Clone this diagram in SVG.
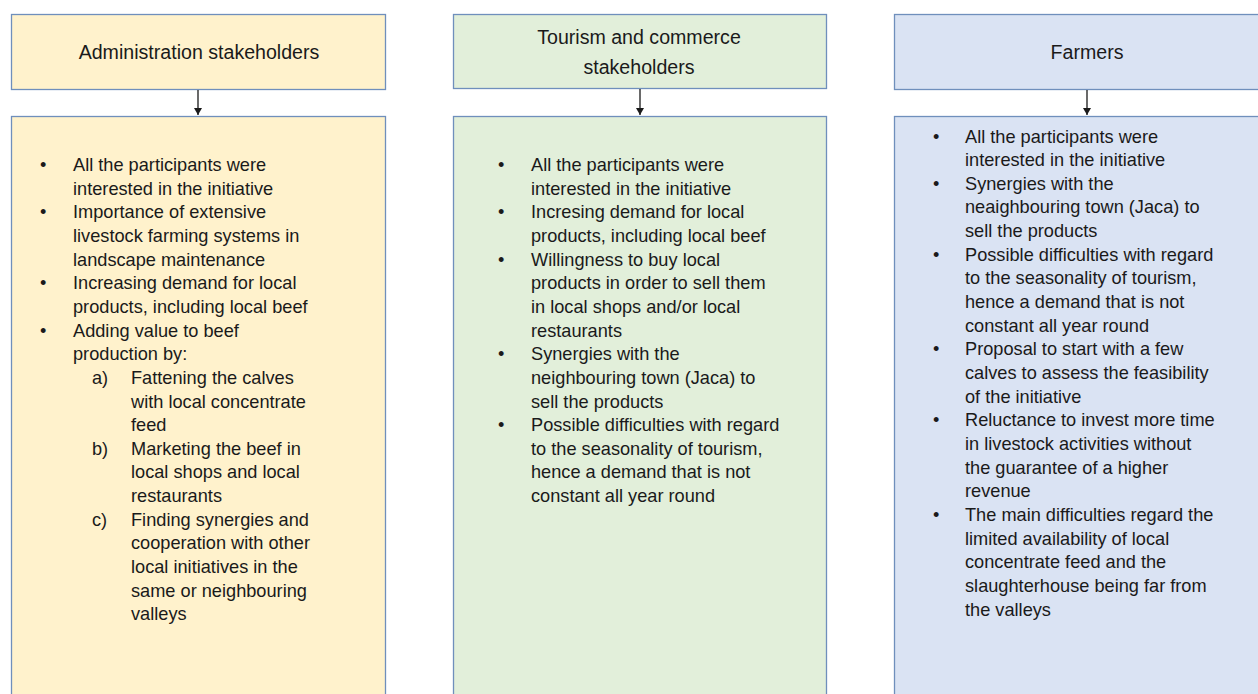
<svg xmlns="http://www.w3.org/2000/svg" width="1258" height="694" viewBox="0 0 1258 694">
<defs>
<style>
.box{stroke:#6F8FBC;stroke-width:1.3}
.y{fill:#FFF2CC}.g{fill:#E2EFDA}.b{fill:#DAE3F3}
.h{font-family:"Liberation Sans",Arial,sans-serif;font-size:19.6px;fill:#1a1a1a;text-anchor:middle}
.t{font-family:"Liberation Sans",Arial,sans-serif;font-size:18.2px;fill:#1a1a1a}
.c{stroke:#1a1a1a;stroke-width:1.3;fill:none}
</style>
<marker id="ah" markerWidth="8" markerHeight="8" refX="7" refY="4" orient="auto" markerUnits="userSpaceOnUse">
<path d="M0,0 L7,4 L0,8 Z" fill="#1a1a1a"/>
</marker>
</defs>
<rect width="1258" height="694" fill="#ffffff"/>

<g id="admin-header">
<rect class="box y" x="11.5" y="14.5" width="374" height="75"/>
<text class="h" x="199" y="58.5">Administration stakeholders</text>
</g>
<g id="tourism-header">
<rect class="box g" x="453.5" y="14.5" width="373" height="74"/>
<text class="h" x="639" y="44">Tourism and commerce</text>
<text class="h" x="639" y="74">stakeholders</text>
</g>
<g id="farmers-header">
<rect class="box b" x="894.5" y="14.5" width="380" height="75"/>
<text class="h" x="1087" y="58.5">Farmers</text>
</g>

<g id="connectors">
<line class="c" x1="198" y1="90" x2="198" y2="115" marker-end="url(#ah)"/>
<line class="c" x1="640" y1="89" x2="640" y2="115" marker-end="url(#ah)"/>
<line class="c" x1="1087" y1="90" x2="1087" y2="115" marker-end="url(#ah)"/>
</g>

<g id="admin-body">
<rect class="box y" x="11.5" y="116.5" width="374" height="600"/>
<text class="t">
<tspan x="40" y="171">•</tspan>
<tspan x="40" y="218.3">•</tspan>
<tspan x="40" y="289.25">•</tspan>
<tspan x="40" y="336.55">•</tspan>
<tspan x="92" y="383.85">a)</tspan>
<tspan x="92" y="455">b)</tspan>
<tspan x="92" y="526">c)</tspan>
</text>
<text class="t">
<tspan x="73" y="171">All the participants were</tspan>
<tspan x="73" y="194.65">interested in the initiative</tspan>
<tspan x="73" y="218.3">Importance of extensive</tspan>
<tspan x="73" y="241.95">livestock farming systems in</tspan>
<tspan x="73" y="265.6">landscape maintenance</tspan>
<tspan x="73" y="289.25">Increasing demand for local</tspan>
<tspan x="73" y="312.9">products, including local beef</tspan>
<tspan x="73" y="336.55">Adding value to beef</tspan>
<tspan x="73" y="360.2">production by:</tspan>
<tspan x="131" y="383.85">Fattening the calves</tspan>
<tspan x="131" y="407.5">with local concentrate</tspan>
<tspan x="131" y="431.15">feed</tspan>
<tspan x="131" y="454.8">Marketing the beef in</tspan>
<tspan x="131" y="478.45">local shops and local</tspan>
<tspan x="131" y="502.1">restaurants</tspan>
<tspan x="131" y="525.75">Finding synergies and</tspan>
<tspan x="131" y="549.4">cooperation with other</tspan>
<tspan x="131" y="573.05">local initiatives in the</tspan>
<tspan x="131" y="596.7">same or neighbouring</tspan>
<tspan x="131" y="620.35">valleys</tspan>
</text>
</g>

<g id="tourism-body">
<rect class="box g" x="453.5" y="116.5" width="373" height="600"/>
<text class="t">
<tspan x="498" y="171">•</tspan>
<tspan x="498" y="218.3">•</tspan>
<tspan x="498" y="265.6">•</tspan>
<tspan x="498" y="360.2">•</tspan>
<tspan x="498" y="431.15">•</tspan>
</text>
<text class="t">
<tspan x="531" y="171">All the participants were</tspan>
<tspan x="531" y="194.65">interested in the initiative</tspan>
<tspan x="531" y="218.3">Incresing demand for local</tspan>
<tspan x="531" y="241.95">products, including local beef</tspan>
<tspan x="531" y="265.6">Willingness to buy local</tspan>
<tspan x="531" y="289.25">products in order to sell them</tspan>
<tspan x="531" y="312.9">in local shops and/or local</tspan>
<tspan x="531" y="336.55">restaurants</tspan>
<tspan x="531" y="360.2">Synergies with the</tspan>
<tspan x="531" y="383.85">neighbouring town (Jaca) to</tspan>
<tspan x="531" y="407.5">sell the products</tspan>
<tspan x="531" y="431.15">Possible difficulties with regard</tspan>
<tspan x="531" y="454.8">to the seasonality of tourism,</tspan>
<tspan x="531" y="478.45">hence a demand that is not</tspan>
<tspan x="531" y="502.1">constant all year round</tspan>
</text>
</g>

<g id="farmers-body">
<rect class="box b" x="894.5" y="116.5" width="380" height="600"/>
<text class="t">
<tspan x="933" y="142.5">•</tspan>
<tspan x="933" y="189.8">•</tspan>
<tspan x="933" y="260.75">•</tspan>
<tspan x="933" y="355.35">•</tspan>
<tspan x="933" y="426.3">•</tspan>
<tspan x="933" y="520.9">•</tspan>
</text>
<text class="t">
<tspan x="965" y="142.5">All the participants were</tspan>
<tspan x="965" y="166.15">interested in the initiative</tspan>
<tspan x="965" y="189.8">Synergies with the</tspan>
<tspan x="965" y="213.45">neaighbouring town (Jaca) to</tspan>
<tspan x="965" y="237.1">sell the products</tspan>
<tspan x="965" y="260.75">Possible difficulties with regard</tspan>
<tspan x="965" y="284.4">to the seasonality of tourism,</tspan>
<tspan x="965" y="308.05">hence a demand that is not</tspan>
<tspan x="965" y="331.7">constant all year round</tspan>
<tspan x="965" y="355.35">Proposal to start with a few</tspan>
<tspan x="965" y="379">calves to assess the feasibility</tspan>
<tspan x="965" y="402.65">of the initiative</tspan>
<tspan x="965" y="426.3">Reluctance to invest more time</tspan>
<tspan x="965" y="449.95">in livestock activities without</tspan>
<tspan x="965" y="473.6">the guarantee of a higher</tspan>
<tspan x="965" y="497.25">revenue</tspan>
<tspan x="965" y="520.9">The main difficulties regard the</tspan>
<tspan x="965" y="544.55">limited availability of local</tspan>
<tspan x="965" y="568.2">concentrate feed and the</tspan>
<tspan x="965" y="591.85">slaughterhouse being far from</tspan>
<tspan x="965" y="615.5">the valleys</tspan>
</text>
</g>
</svg>
